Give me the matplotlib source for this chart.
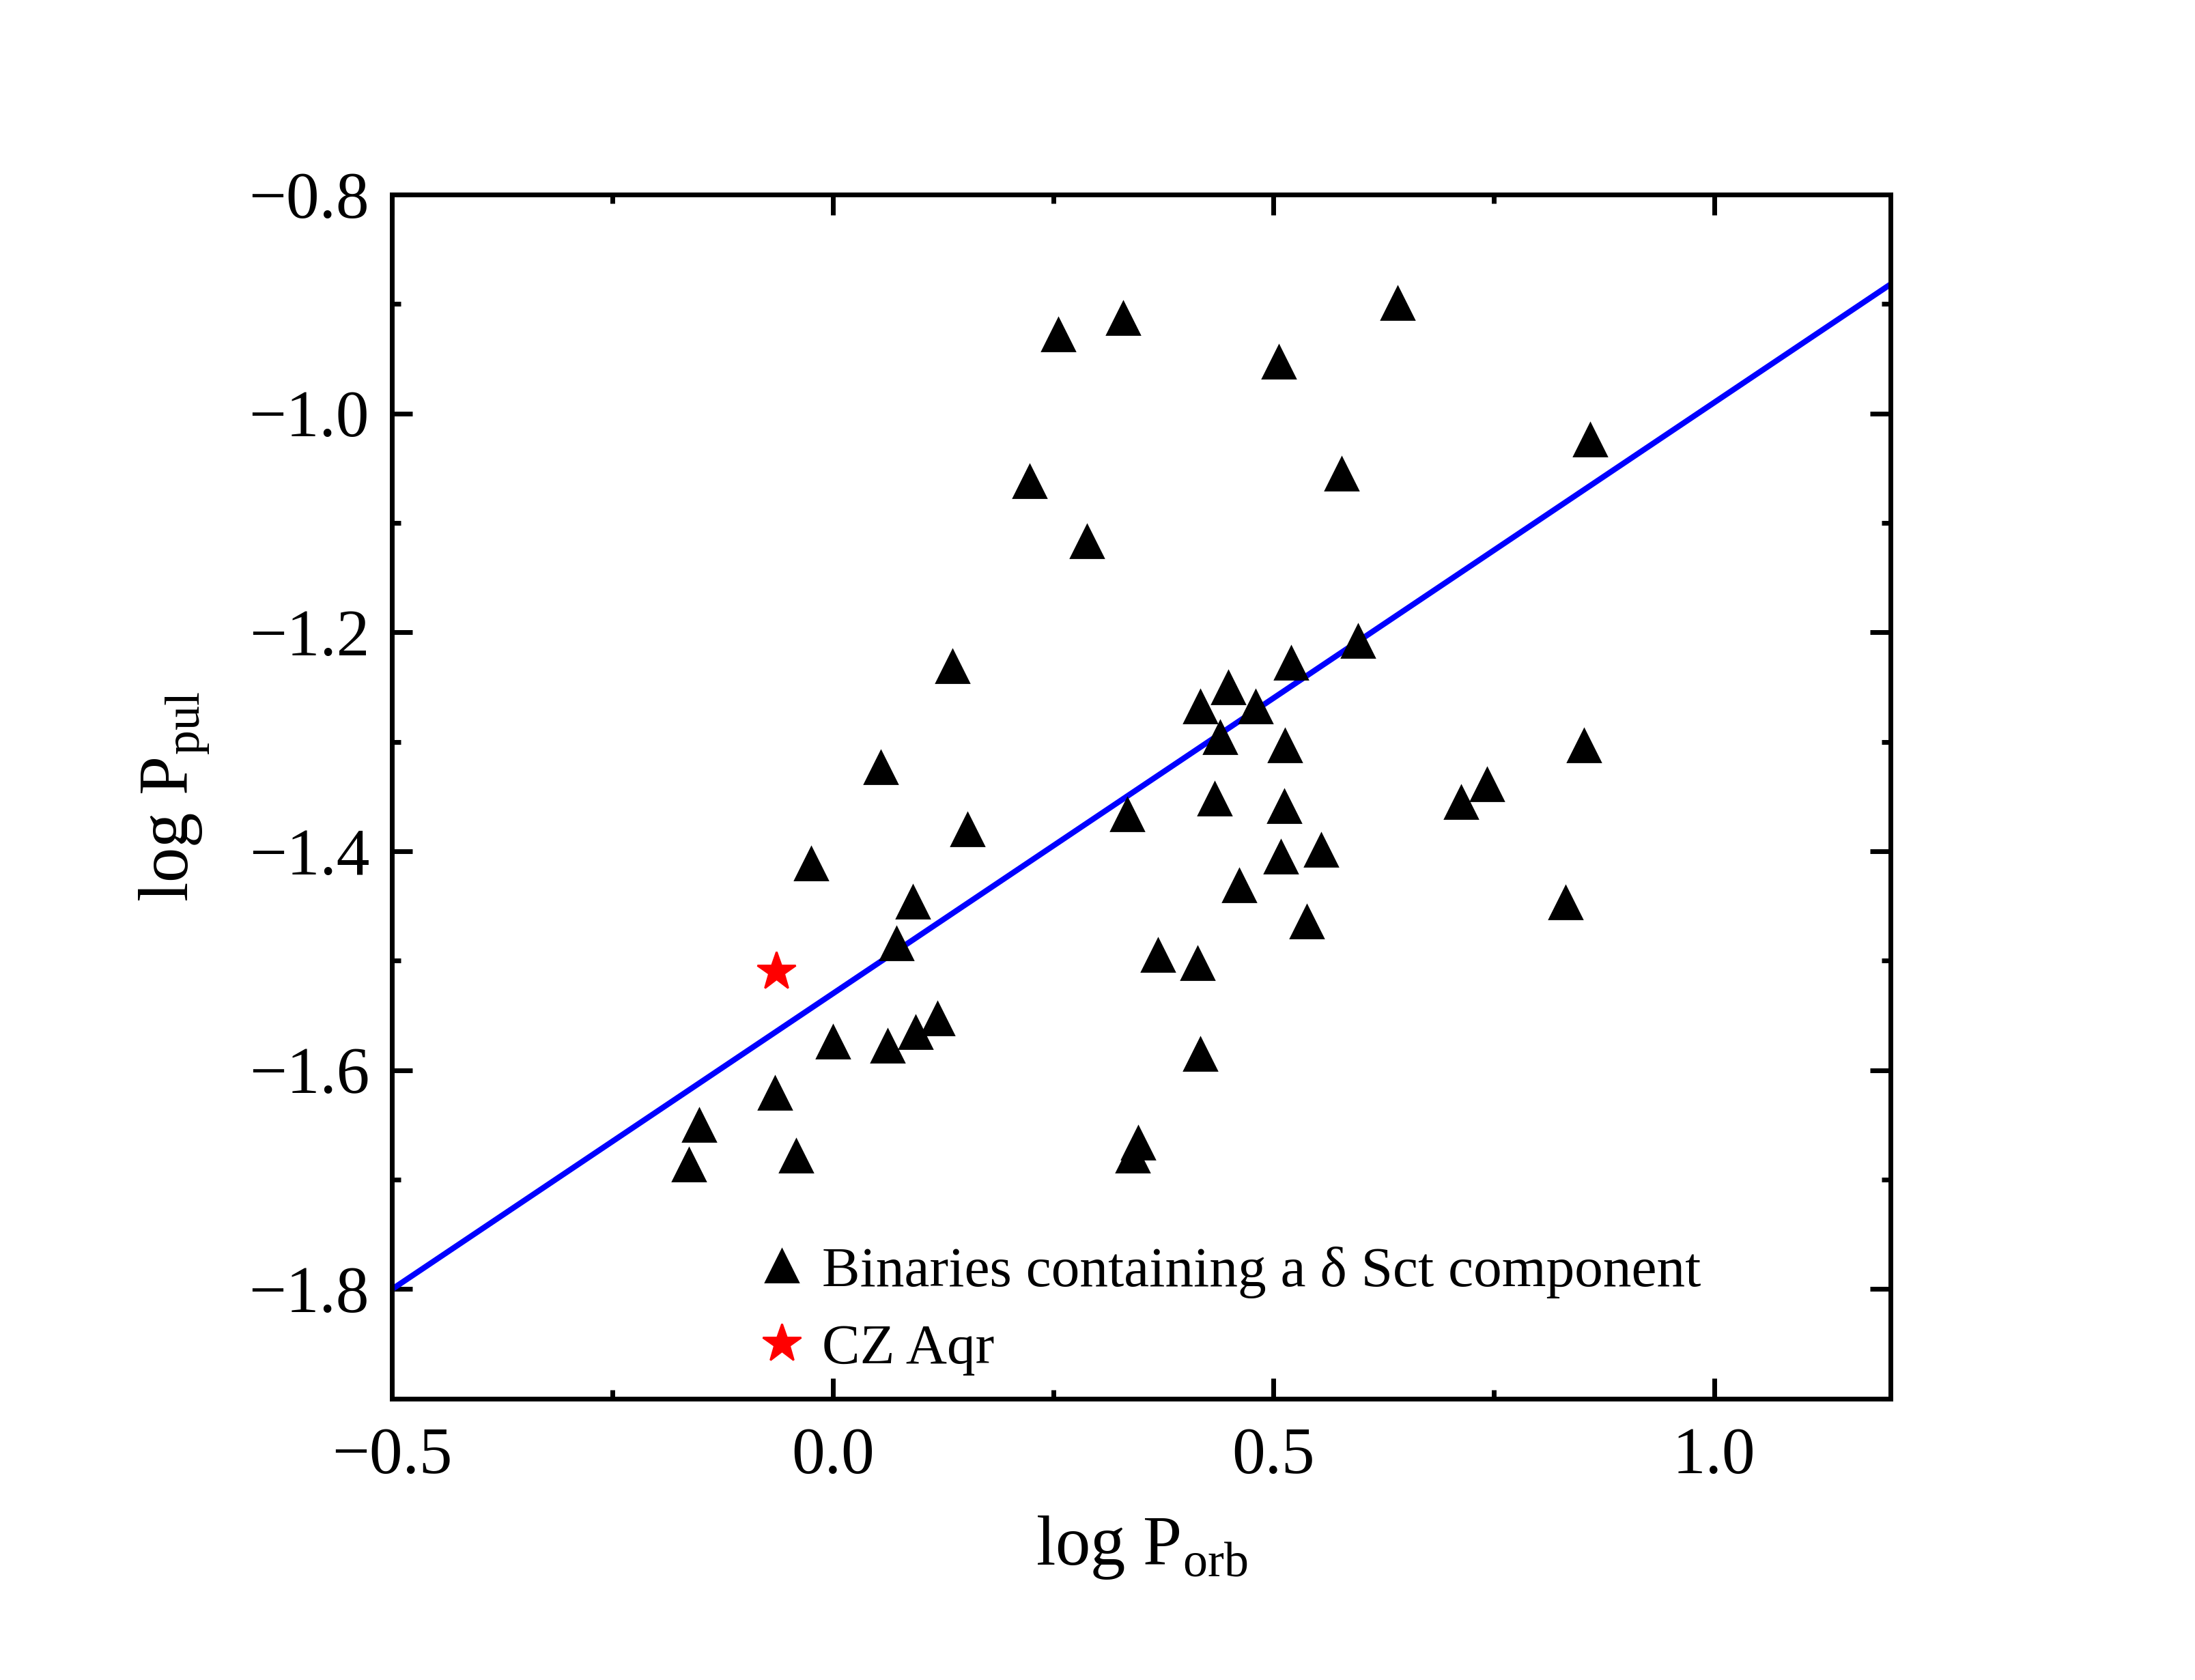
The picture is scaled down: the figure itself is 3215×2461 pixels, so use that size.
import matplotlib
matplotlib.use("Agg")
import matplotlib.pyplot as plt
from matplotlib.ticker import MultipleLocator, FuncFormatter

# log P_orb / log P_pul of binaries with a delta Sct component
log_porb = [-0.163, -0.152, -0.066, -0.042, -0.025, 0.000, 0.054, 0.062, 0.072,
            0.091, 0.094, 0.119, 0.136, 0.153, 0.223, 0.256, 0.288, 0.329,
            0.334, 0.340, 0.346, 0.369, 0.414, 0.417, 0.417, 0.433, 0.439,
            0.449, 0.461, 0.480, 0.506, 0.508, 0.512, 0.513, 0.520, 0.538,
            0.554, 0.577, 0.596, 0.641, 0.713, 0.742, 0.831, 0.852, 0.859]
log_ppul = [-1.686, -1.650, -1.621, -1.678, -1.411, -1.574, -1.323, -1.578, -1.484,
            -1.446, -1.565, -1.553, -1.231, -1.380, -1.062, -0.928, -1.117, -0.913,
            -1.366, -1.678, -1.666, -1.495, -1.502, -1.585, -1.268, -1.352, -1.296,
            -1.250, -1.431, -1.268, -0.953, -1.405, -1.359, -1.303, -1.228, -1.464,
            -1.399, -1.055, -1.208, -0.899, -1.355, -1.339, -1.447, -1.303, -1.024]

# CZ Aqr
cz_porb = [-0.064]
cz_ppul = [-1.510]

# linear fit
fit_slope = 0.54
fit_intercept = -1.53
fit_x = [-0.5, 1.2]

plt.rcParams['font.family'] = ['Liberation Serif', 'DejaVu Serif']
plt.rcParams['mathtext.fontset'] = 'custom'
plt.rcParams['mathtext.rm'] = 'Liberation Serif'
plt.rcParams['axes.unicode_minus'] = True

fig = plt.figure(figsize=(16.08, 12.305), dpi=200)
ax = fig.add_axes([0.1786, 0.1675, 0.6824, 0.7167])

fit_y = [fit_slope * x + fit_intercept for x in fit_x]
ax.plot(fit_x, fit_y, color='#0000ff', lw=3.0, zorder=2)
ax.plot(log_porb, log_ppul, linestyle='none', marker='^', color='black',
        markersize=17, label='Binaries containing a δ Sct component', zorder=3)
ax.plot(cz_porb, cz_ppul, linestyle='none', marker='*', color='#ff0000',
        markersize=21, label='CZ Aqr', zorder=4)

ax.set_xlim(-0.5, 1.2)
ax.set_ylim(-1.9, -0.8)
ax.xaxis.set_major_locator(MultipleLocator(0.5))
ax.xaxis.set_minor_locator(MultipleLocator(0.25))
ax.yaxis.set_major_locator(MultipleLocator(0.2))
ax.yaxis.set_minor_locator(MultipleLocator(0.1))
fmt = FuncFormatter(lambda v, p: f"{v:.1f}".replace("-", "\u2212"))
ax.xaxis.set_major_formatter(fmt)
ax.yaxis.set_major_formatter(fmt)

for s in ax.spines.values():
    s.set_linewidth(2.5)
ax.tick_params(which='both', direction='in', top=True, right=True, width=2.5,
               labelsize=35)
ax.tick_params(which='major', length=10.8)
ax.tick_params(which='minor', length=4.8)
ax.tick_params(axis='x', which='major', pad=15)
ax.tick_params(axis='y', which='major', pad=12)

ax.set_xlabel(r'log P$_\mathregular{orb}$', fontsize=37, labelpad=14)
ax.set_ylabel(r'log P$_\mathregular{pul}$', fontsize=37, labelpad=20)

ax.legend(loc='lower left', bbox_to_anchor=(0.226, 0.0), frameon=False,
          fontsize=30, handletextpad=0.2, labelspacing=0.45, borderaxespad=0.0,
          handlelength=1.0)

fig.savefig('out.png', dpi=200)
